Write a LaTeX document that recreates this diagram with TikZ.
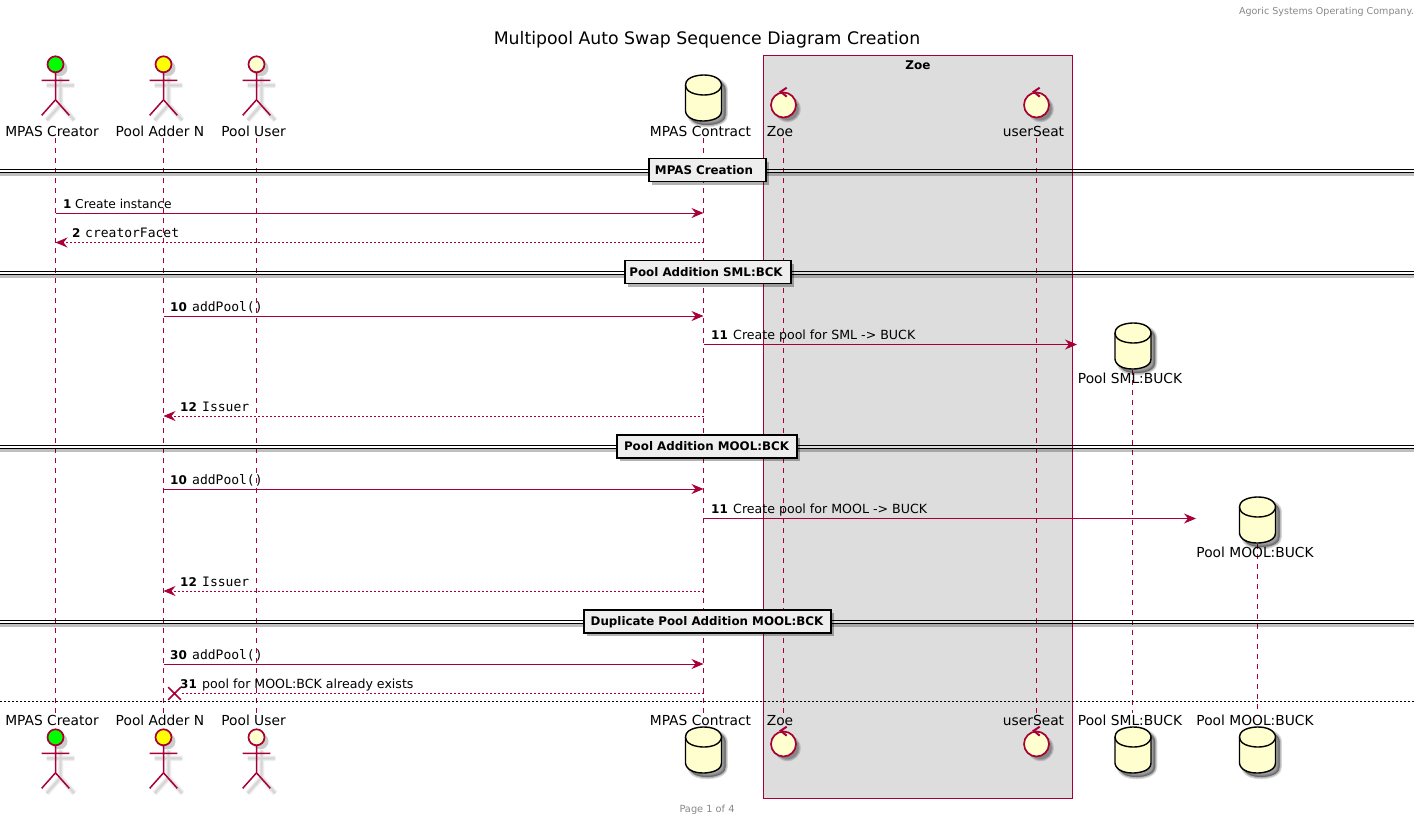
\documentclass[tikz,border=0pt]{standalone}
\usepackage{fontspec}
\setmainfont{DejaVu Sans}
\setmonofont{DejaVu Sans Mono}
\usetikzlibrary{arrows.meta,shapes.misc,shadows}
\definecolor{umlred}{HTML}{A80036}
\definecolor{umlfill}{HTML}{FEFECE}
\definecolor{headgreen}{HTML}{00FF00}
\definecolor{headyellow}{HTML}{FFFF00}
\definecolor{zoegray}{HTML}{DDDDDD}
\definecolor{dividergray}{HTML}{EEEEEE}
\definecolor{notegray}{HTML}{888888}
\tikzset{
  softline/.style={black,line width=#1,opacity=0.06},
  softfill/.style={black,fill=black,line width=#1,opacity=0.15},
  actorlines/.pic={
    \path[pic actions] (0,8) -- (0,35.5) (-13.8,16) -- (13.8,16) (-13.8,51) -- (0,35.5) -- (13.8,51);
  },
  actorfig/.pic={
    \foreach \w in {1.5,3.5,5.5} {\pic[softline=\w,draw,shift={(5,5)}] {actorlines};}
    \fill[black,opacity=0.2,shift={(4,4)}] (0,0) circle (8);
    \pic[draw=umlred,line width=1.5] {actorlines};
    \draw[umlred,fill=#1,line width=1.7] (0,0) circle (8);
  },
  dbshape/.pic={
    \path[pic actions] (-18,10) .. controls (-18,0) and (0,0) .. (0,0) .. controls (18,0) and (18,10) .. (18,10)
      -- (18,36) .. controls (18,46) and (0,46) .. (0,46) .. controls (-18,46) and (-18,36) .. (-18,36) -- cycle;
  },
  dbfig/.pic={
    \foreach \w in {0.5,2.5,4.5} {\pic[softfill=\w,draw,shift={(4,4)}] {dbshape};}
    \pic[draw=black,fill=umlfill,line width=1.4] {dbshape};
    \draw[line width=1.4] (-18,10) .. controls (-18,20) and (0,20) .. (0,20) .. controls (18,20) and (18,10) .. (18,10);
  },
  ctrlfig/.pic={
    \foreach \w in {0.5,2.5,4.5} {\fill[black,opacity=0.15,shift={(4,4)}] (0,0) circle ({11+\w/2});}
    \draw[umlred,fill=umlfill,line width=1.7] (0,0) circle (12.5);
    \draw[umlred,line width=2] (3.2,-17.3) -- (-2.8,-13.3) -- (3.2,-8.3);
  },
  lifeline/.style={umlred,line width=1,dash pattern=on 5pt off 5pt},
  msgsolid/.style={umlred,line width=1,-{Stealth[length=12pt,width=10pt,inset=4pt]}},
  msgdash/.style={umlred,line width=1,dash pattern=on 2pt off 2pt,-{Stealth[length=12pt,width=10pt,inset=4pt,line width=1pt]}},
  partlabel/.style={anchor=base,inner sep=0,font=\fontsize{13.8}{16}\selectfont},
  msgnum/.style={anchor=base west,inner sep=0,font=\fontsize{12}{14}\selectfont\bfseries},
  msgtext/.style={anchor=base west,inner sep=0,font=\fontsize{12.6}{14}\selectfont},
  msgcode/.style={anchor=base west,inner sep=0,font=\fontsize{13}{15}\ttfamily},
  dividerbox/.style={draw=black,line width=1.8,fill=dividergray,minimum height=23,inner sep=0,text height=10.5,text depth=2,
    font=\fontsize{11.85}{14}\selectfont\bfseries,execute at end node={\kern#1pt},
    drop shadow={shadow xshift=3pt,shadow yshift=-3pt,fill=black,opacity=0.3}},
  dividerline/.style={line width=1.2,black},
  dividershade/.style={line width=3,black,opacity=0.25},
}
\begin{document}
\begin{tikzpicture}[x=1pt,y=-1pt]
  \useasboundingbox (0,0) rectangle (1420,819);
  % Header, title and footer
  \node[anchor=base east,inner sep=0,text=notegray,font=\fontsize{9.55}{12}\selectfont] (header) at (1414,14) {Agoric Systems Operating Company.};
  \node[anchor=base,inner sep=0,font=\fontsize{17.3}{20}\selectfont] (title) at (707,44) {Multipool Auto Swap Sequence Diagram Creation};
  \node[anchor=base,inner sep=0,text=notegray,font=\fontsize{9.8}{12}\selectfont] (footer) at (707,812) {Page 1 of 4};
  % Zoe box
  \node[draw=umlred,fill=zoegray,line width=1,minimum width=308.5,minimum height=743,inner sep=0] (zoebox) at (918,427) {};
  \node[anchor=base,inner sep=0,font=\fontsize{12}{14}\selectfont\bfseries] (zoetitle) at (918,69) {Zoe};
  % Lifeline ends
  \coordinate (creatorTop) at (55.5,138);
  \coordinate (creatorBot) at (55.5,713);
  \coordinate (adderTop) at (163.5,138);
  \coordinate (adderBot) at (163.5,713);
  \coordinate (userTop) at (256.5,138);
  \coordinate (userBot) at (256.5,713);
  \coordinate (contractTop) at (703.5,138);
  \coordinate (contractBot) at (703.5,713);
  \coordinate (zoeTop) at (783.5,138);
  \coordinate (zoeBot) at (783.5,713);
  \coordinate (seatTop) at (1036,138);
  \coordinate (seatBot) at (1036,713);
  \coordinate (smlTop) at (1132.5,370);
  \coordinate (smlBot) at (1132.5,713);
  \coordinate (moolTop) at (1257.5,544);
  \coordinate (moolBot) at (1257.5,713);
  \draw[lifeline] (creatorTop) -- (creatorBot);
  \draw[lifeline] (adderTop) -- (adderBot);
  \draw[lifeline] (userTop) -- (userBot);
  \draw[lifeline] (contractTop) -- (contractBot);
  \draw[lifeline] (zoeTop) -- (zoeBot);
  \draw[lifeline] (seatTop) -- (seatBot);
  \draw[lifeline] (smlTop) -- (smlBot);
  \draw[lifeline] (moolTop) -- (moolBot);
  % Participants on top
  \pic (creatorHead) at (55.5,64.3) {actorfig=headgreen};
  \pic (adderHead) at (163.5,64.3) {actorfig=headyellow};
  \pic (userHead) at (256.5,64.3) {actorfig=umlfill};
  \pic (contractDb) at (703.5,75) {dbfig};
  \pic (zoeCtrl) at (783.5,105) {ctrlfig};
  \pic (seatCtrl) at (1036.5,105) {ctrlfig};
  \pic (smlDb) at (1133,323) {dbfig};
  \pic (moolDb) at (1257.5,497) {dbfig};
  \node[partlabel] (creatorName) at (52,136) {MPAS Creator};
  \node[partlabel] (adderName) at (160,136) {Pool Adder N};
  \node[partlabel] (userName) at (253.5,136) {Pool User};
  \node[partlabel] (contractName) at (700.5,136) {MPAS Contract};
  \node[partlabel] (zoeName) at (780,136) {Zoe};
  \node[partlabel] (seatName) at (1033.5,136) {userSeat};
  \node[partlabel] (smlName) at (1130,383) {Pool SML:BUCK};
  \node[partlabel] (moolName) at (1255,557) {Pool MOOL:BUCK};
  % Participants at the bottom
  \pic (creatorFoot) at (55.5,737.3) {actorfig=headgreen};
  \pic (adderFoot) at (163.5,737.3) {actorfig=headyellow};
  \pic (userFoot) at (256.5,737.3) {actorfig=umlfill};
  \pic (contractFoot) at (703.5,727) {dbfig};
  \pic (zoeFoot) at (783.5,744) {ctrlfig};
  \pic (seatFoot) at (1036.5,744) {ctrlfig};
  \pic (smlFoot) at (1133,727) {dbfig};
  \pic (moolFoot) at (1257.5,727) {dbfig};
  \node[partlabel] (creatorEnd) at (52,725) {MPAS Creator};
  \node[partlabel] (adderEnd) at (160,725) {Pool Adder N};
  \node[partlabel] (userEnd) at (253.5,725) {Pool User};
  \node[partlabel] (contractEnd) at (700.5,725) {MPAS Contract};
  \node[partlabel] (zoeEnd) at (780,725) {Zoe};
  \node[partlabel] (seatEnd) at (1033.5,725) {userSeat};
  \node[partlabel] (smlEnd) at (1130,725) {Pool SML:BUCK};
  \node[partlabel] (moolEnd) at (1255,725) {Pool MOOL:BUCK};
  % Messages
  \coordinate (m1from) at (55.5,213);
  \coordinate (m1to) at (703.5,213);
  \draw[msgsolid] (m1from) -- (m1to);
  \node[msgnum] (m1num) at (63,208) {1};
  \node[msgtext,font=\fontsize{12.25}{14}\selectfont] (m1text) at (75,208) {Create instance};
  \coordinate (m2from) at (703.5,242.5);
  \coordinate (m2to) at (55.5,242.5);
  \draw[msgdash] (m2from) -- (m2to);
  \node[msgnum] (m2num) at (72,237) {2};
  \node[msgcode] (m2text) at (85,237) {creatorFacet};
  \coordinate (m10from) at (163.5,316);
  \coordinate (m10to) at (703.5,316);
  \draw[msgsolid] (m10from) -- (m10to);
  \node[msgnum] (m10num) at (170,311) {10};
  \node[msgcode] (m10text) at (192,311) {addPool()};
  \coordinate (m11from) at (703.5,344.5);
  \coordinate (m11to) at (1077,344.5);
  \draw[msgsolid] (m11from) -- (m11to);
  \node[msgnum] (m11num) at (711,339.5) {11};
  \node[msgtext] (m11text) at (733,339.5) {Create pool for SML -> BUCK};
  \coordinate (m12from) at (703.5,416);
  \coordinate (m12to) at (163.5,416);
  \draw[msgdash] (m12from) -- (m12to);
  \node[msgnum] (m12num) at (180,411) {12};
  \node[msgcode] (m12text) at (202,411) {Issuer};
  \coordinate (n10from) at (163.5,489);
  \coordinate (n10to) at (703.5,489);
  \draw[msgsolid] (n10from) -- (n10to);
  \node[msgnum] (n10num) at (170,484) {10};
  \node[msgcode] (n10text) at (192,484) {addPool()};
  \coordinate (n11from) at (703.5,518.5);
  \coordinate (n11to) at (1196,518.5);
  \draw[msgsolid] (n11from) -- (n11to);
  \node[msgnum] (n11num) at (711,513.5) {11};
  \node[msgtext] (n11text) at (733,513.5) {Create pool for MOOL -> BUCK};
  \coordinate (n12from) at (703.5,591);
  \coordinate (n12to) at (163.5,591);
  \draw[msgdash] (n12from) -- (n12to);
  \node[msgnum] (n12num) at (180,586) {12};
  \node[msgcode] (n12text) at (202,586) {Issuer};
  \coordinate (m30from) at (163.5,664);
  \coordinate (m30to) at (703.5,664);
  \draw[msgsolid] (m30from) -- (m30to);
  \node[msgnum] (m30num) at (170,659) {30};
  \node[msgcode] (m30text) at (192,659) {addPool()};
  \coordinate (m31from) at (703.5,693.5);
  \node[draw=umlred,cross out,line width=1.6,minimum size=11,inner sep=0] (m31to) at (174.5,693.5) {};
  \draw[umlred,line width=1,dash pattern=on 2pt off 2pt] (m31from) -- (m31to);
  \node[msgnum] (m31num) at (180,688.5) {31};
  \node[msgtext] (m31text) at (202,688.5) {pool for MOOL:BCK already exists};
  % Dividers
  \coordinate (d1left) at (0,171);
  \coordinate (d1right) at (1414,171);
  \draw[dividershade] ([yshift=-3.5pt]d1left) -- ([yshift=-3.5pt]d1right);
  \draw[dividerline] ([yshift=1.7pt]d1left) -- ([yshift=1.7pt]d1right);
  \draw[dividerline] ([yshift=-1.7pt]d1left) -- ([yshift=-1.7pt]d1right);
  \node[dividerbox=7,minimum width=117] (d1box) at (707.5,170) {MPAS Creation};
  \coordinate (d2left) at (0,273);
  \coordinate (d2right) at (1414,273);
  \draw[dividershade] ([yshift=-3.5pt]d2left) -- ([yshift=-3.5pt]d2right);
  \draw[dividerline] ([yshift=1.7pt]d2left) -- ([yshift=1.7pt]d2right);
  \draw[dividerline] ([yshift=-1.7pt]d2left) -- ([yshift=-1.7pt]d2right);
  \node[dividerbox=4,minimum width=166] (d2box) at (708,272) {Pool Addition SML:BCK};
  \coordinate (d3left) at (0,447);
  \coordinate (d3right) at (1414,447);
  \draw[dividershade] ([yshift=-3.5pt]d3left) -- ([yshift=-3.5pt]d3right);
  \draw[dividerline] ([yshift=1.7pt]d3left) -- ([yshift=1.7pt]d3right);
  \draw[dividerline] ([yshift=-1.7pt]d3left) -- ([yshift=-1.7pt]d3right);
  \node[dividerbox=1,minimum width=180] (d3box) at (707,446.5) {Pool Addition MOOL:BCK};
  \coordinate (d4left) at (0,622);
  \coordinate (d4right) at (1414,622);
  \draw[dividershade] ([yshift=-3.5pt]d4left) -- ([yshift=-3.5pt]d4right);
  \draw[dividerline] ([yshift=1.7pt]d4left) -- ([yshift=1.7pt]d4right);
  \draw[dividerline] ([yshift=-1.7pt]d4left) -- ([yshift=-1.7pt]d4right);
  \node[dividerbox=1,minimum width=247] (d4box) at (707.5,621.5) {Duplicate Pool Addition MOOL:BCK};
  % Closing line
  \coordinate (endleft) at (0,701.5);
  \coordinate (endright) at (1414,701.5);
  \draw[black,line width=1,dash pattern=on 2pt off 2pt] (endleft) -- (endright);
\end{tikzpicture}
\end{document}
